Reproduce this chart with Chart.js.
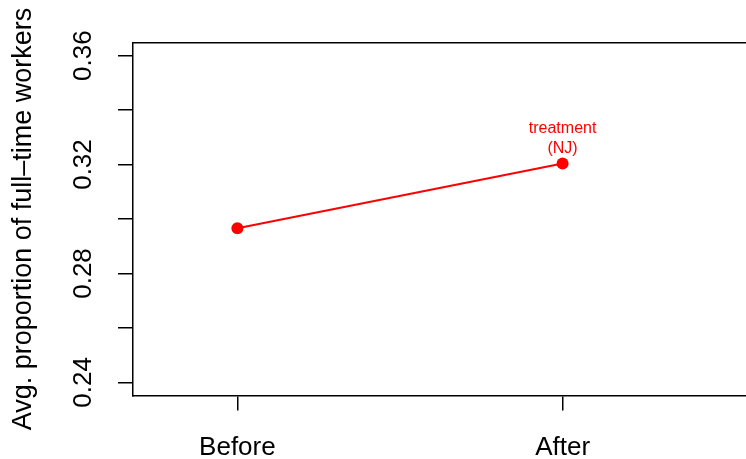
<!DOCTYPE html>
<html>
<head>
<meta charset="utf-8">
<script src="https://cdn.jsdelivr.net/npm/chart.js@4/dist/chart.umd.min.js"></script>
<style>
  html, body { margin: 0; padding: 0; background: #fff; overflow: hidden; }
  #wrap { width: 746px; height: 459px; }
</style>
</head>
<body>
<div id="wrap"><canvas id="grafico" width="746" height="459"></canvas></div>
<script>
const categorias = ['Before', 'After'];
const valoresNJ = [0.2966, 0.3204];
const rotuloSerie = ['treatment', '(NJ)'];
const ticksY = [0.24, 0.26, 0.28, 0.30, 0.32, 0.34, 0.36];
const rotulosY = ['0.24', '', '0.28', '', '0.32', '', '0.36'];
const tituloY = 'Avg. proportion of full\u2013time workers';

const fonte = 'Liberation Sans, Arial, Helvetica, sans-serif';

// rótulo vermelho acima do ponto "After"
const rotuloPonto = {
  id: 'rotuloPonto',
  afterDatasetsDraw(chart) {
    const meta = chart.getDatasetMeta(0);
    const p = meta.data[1];
    if (!p) return;
    const ctx = chart.ctx;
    ctx.save();
    ctx.fillStyle = '#ff0000';
    ctx.font = '16px ' + fonte;
    ctx.textAlign = 'center';
    ctx.textBaseline = 'alphabetic';
    ctx.fillText(rotuloSerie[0], p.x, p.y - 30);
    ctx.fillText(rotuloSerie[1], p.x, p.y - 10.5);
    ctx.restore();
  }
};

function semPaddingX(s, altura) {
  s.height = altura;
  s.paddingLeft = 0;
  s.paddingRight = 0;
}

const ctx = document.getElementById('grafico');
new Chart(ctx, {
  type: 'line',
  data: {
    datasets: [{
      data: valoresNJ.map(function (v, i) { return { x: i + 1, y: v }; }),
      borderColor: '#ff0000',
      backgroundColor: '#ff0000',
      borderWidth: 2,
      pointRadius: 6,
      pointBackgroundColor: '#ff0000',
      pointBorderWidth: 0,
      tension: 0,
      fill: false
    }]
  },
  options: {
    responsive: false,
    animation: false,
    devicePixelRatio: 1,
    layout: { padding: 0, autoPadding: false },
    plugins: { legend: { display: false }, tooltip: { enabled: false } },
    scales: {
      x: {
        type: 'linear',
        position: 'bottom',
        min: 0.679,
        max: 2.564,
        afterBuildTicks: function (s) { s.ticks = categorias.map(function (c, i) { return { value: i + 1 }; }); },
        afterFit: function (s) { semPaddingX(s, 63.5); },
        ticks: {
          autoSkip: false,
          color: '#000',
          font: { family: fonte, size: 26 },
          padding: 22,
          maxRotation: 0,
          callback: function (v) { return categorias[v - 1]; }
        },
        grid: { drawOnChartArea: false, drawTicks: true, tickLength: 15, color: '#000', lineWidth: 1.5 },
        border: { display: true, color: '#000', width: 1.5 }
      },
      x2: {
        type: 'linear',
        position: 'top',
        min: 0.679,
        max: 2.564,
        afterFit: function (s) { semPaddingX(s, 42.5); },
        ticks: { display: false },
        grid: { drawOnChartArea: false, drawTicks: false },
        border: { display: true, color: '#000', width: 1.5 }
      },
      y: {
        type: 'linear',
        position: 'left',
        min: 0.2352,
        max: 0.3648,
        afterBuildTicks: function (s) { s.ticks = ticksY.map(function (v) { return { value: v }; }); },
        afterFit: function (s) { s.width = 133; s.paddingTop = 0; s.paddingBottom = 0; },
        ticks: {
          autoSkip: false,
          color: '#000',
          font: { family: fonte, size: 26 },
          padding: 9,
          minRotation: 90,
          maxRotation: 90,
          crossAlign: 'center',
          callback: function (v, i) { return rotulosY[i]; }
        },
        grid: { drawOnChartArea: false, drawTicks: true, tickLength: 15, color: '#000', lineWidth: 1.5 },
        border: { display: true, color: '#000', width: 1.5 },
        title: {
          display: true,
          text: tituloY,
          color: '#000',
          font: { family: fonte, size: 27 },
          padding: { top: 7, bottom: 0 }
        }
      }
    }
  },
  plugins: [rotuloPonto]
});
</script>
</body>
</html>
